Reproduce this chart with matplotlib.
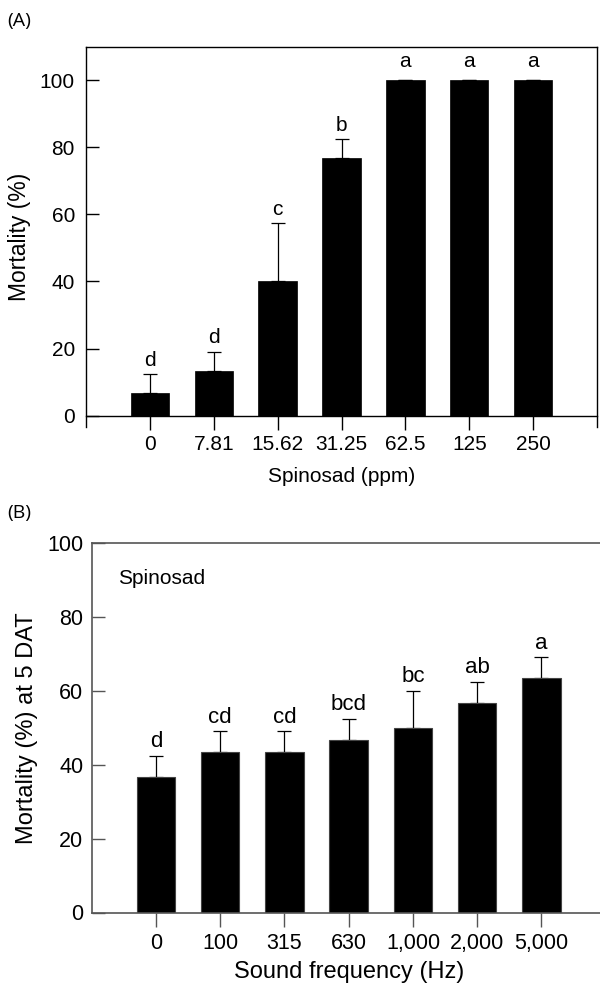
import matplotlib
matplotlib.use("Agg")
import matplotlib.pyplot as plt
import numpy as np

plt.rcParams['font.family'] = ['Liberation Sans', 'DejaVu Sans']

# ---- Panel A data ----
conc_labels = ["0", "7.81", "15.62", "31.25", "62.5", "125", "250"]
mort_a = [6.67, 13.33, 40.0, 76.67, 100.0, 100.0, 100.0]
err_a = [5.77, 5.77, 17.32, 5.77, 0.0, 0.0, 0.0]
letters_a = ["d", "d", "c", "b", "a", "a", "a"]

# ---- Panel B data ----
freq_labels = ["0", "100", "315", "630", "1,000", "2,000", "5,000"]
mort_b = [36.67, 43.33, 43.33, 46.67, 50.0, 56.67, 63.33]
err_b = [5.77, 5.77, 5.77, 5.77, 10.0, 5.77, 5.77]
letters_b = ["d", "cd", "cd", "bcd", "bc", "ab", "a"]

W, H = 600, 986
fig = plt.figure(figsize=(W / 100, H / 100), dpi=100)

def fx(px):
    return px / W

def fy(py):
    return 1 - py / H

# ---------------- Panel A ----------------
axA = fig.add_axes([fx(86), fy(426.7), fx(597) - fx(86), fy(46.7) - fy(426.7)])
xa = np.arange(len(mort_a))
axA.bar(xa, mort_a, width=0.6, color='black', edgecolor='black', linewidth=0.5, zorder=2)
axA.errorbar(xa, mort_a, yerr=[np.zeros(len(err_a)), err_a], fmt='none',
             ecolor='black', elinewidth=0.9, capsize=5, capthick=0.9, zorder=1)
for x, v, e, t in zip(xa, mort_a, err_a, letters_a):
    off = 3 if e > 0 else 6.5
    axA.annotate(t, (x, v + e), xytext=(0, off), textcoords='offset points',
                 ha='center', va='bottom', fontsize=15)
axA.set_xlim(-1, 7)
axA.set_ylim(-3.3, 110)
axA.spines['bottom'].set_position(('data', 0))
for s in axA.spines.values():
    s.set_linewidth(1.0)
    s.set_color('black')
axA.set_yticks([0, 20, 40, 60, 80, 100])
axA.set_xticks(xa)
axA.set_xticklabels(conc_labels)
axA.tick_params(axis='y', direction='in', length=9, width=1.0, pad=8, labelsize=15)
axA.tick_params(axis='x', direction='out', length=10, width=1.0, pad=4, labelsize=15)
axA.set_ylabel("Mortality (%)", fontsize=16.5, labelpad=6)
axA.set_xlabel("Spinosad (ppm)", fontsize=15, labelpad=9)

fig.text(fx(7), fy(21), "(A)", fontsize=14, family=['Open Sans', 'DejaVu Sans'],
         ha='left', va='center')

# ---------------- Panel B ----------------
axB = fig.add_axes([fx(91.7), fy(912.5), fx(605.7) - fx(91.7), fy(543) - fy(912.5)])
xb = np.arange(len(mort_b))
axB.bar(xb, mort_b, width=0.6, color='black', edgecolor='#444444', linewidth=0.8, zorder=2)
axB.errorbar(xb, mort_b, yerr=[np.zeros(len(err_b)), err_b], fmt='none',
             ecolor='black', elinewidth=0.9, capsize=5, capthick=0.9, zorder=1)
for x, v, e, t in zip(xb, mort_b, err_b, letters_b):
    axB.annotate(t, (x, v + e), xytext=(0, 2.5), textcoords='offset points',
                 ha='center', va='bottom', fontsize=16)
axB.set_xlim(-1, 7)
axB.set_ylim(0, 100)
for s in axB.spines.values():
    s.set_linewidth(1.2)
    s.set_color('#555555')
axB.set_yticks([0, 20, 40, 60, 80, 100])
axB.set_xticks(xb)
axB.set_xticklabels(freq_labels)
axB.tick_params(axis='y', direction='in', length=9, width=1.0, pad=6, labelsize=15.5,
                color='#555555')
axB.tick_params(axis='x', direction='out', length=10, width=1.0, pad=5, labelsize=15.5,
                color='#555555')
axB.set_ylabel("Mortality (%) at 5 DAT", fontsize=17, labelpad=7)
axB.set_xlabel("Sound frequency (Hz)", fontsize=17, labelpad=5)
axB.text(0.052, 0.905, "Spinosad", transform=axB.transAxes, fontsize=15,
         ha='left', va='center')

fig.text(fx(7), fy(513), "(B)", fontsize=14, family=['Open Sans', 'DejaVu Sans'],
         ha='left', va='center')

fig.savefig("out.png", dpi=100)
